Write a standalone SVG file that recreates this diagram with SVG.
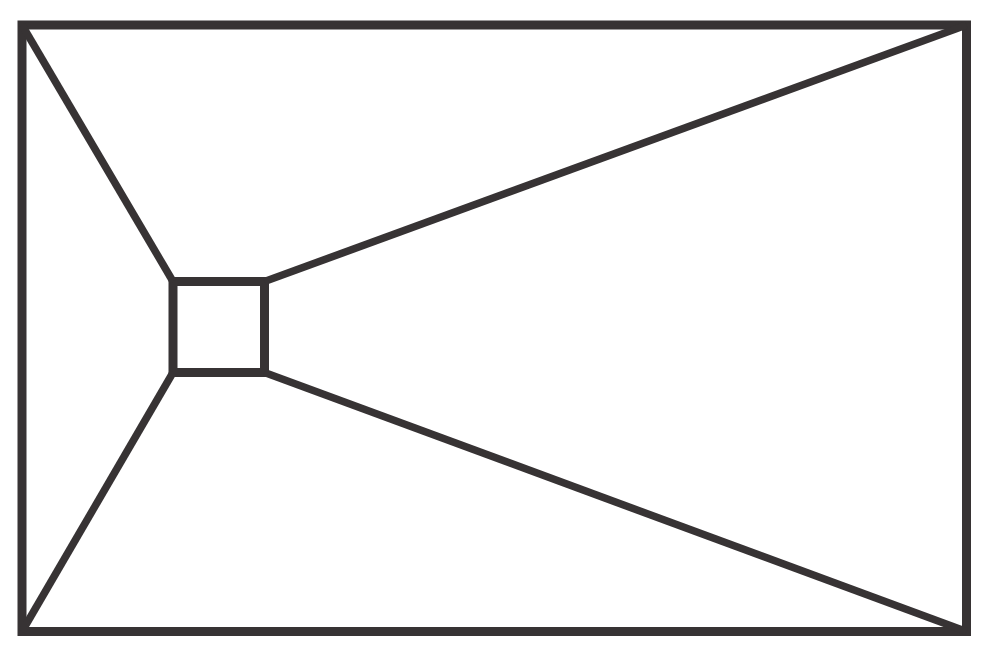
<svg xmlns="http://www.w3.org/2000/svg" width="985" height="657" viewBox="0 0 985 657">
<style>
.s{fill:none;stroke:#373334;stroke-width:9;stroke-linejoin:miter}
.d{stroke:#373334;stroke-width:7.5;stroke-linecap:butt}
</style>
<rect width="985" height="657" fill="#ffffff"/>
<g id="outer"><rect class="s" x="22" y="25" width="944.5" height="606.5"/></g>
<g id="inner"><rect class="s" x="173" y="281.5" width="91.5" height="91"/></g>
<g id="connectors">
<line class="d" x1="22" y1="25" x2="173" y2="281.5"/>
<line class="d" x1="22" y1="631.5" x2="173" y2="372.5"/>
<line class="d" x1="966.5" y1="25" x2="264.5" y2="281.5"/>
<line class="d" x1="966.5" y1="631.5" x2="264.5" y2="372.5"/>
</g>
</svg>
